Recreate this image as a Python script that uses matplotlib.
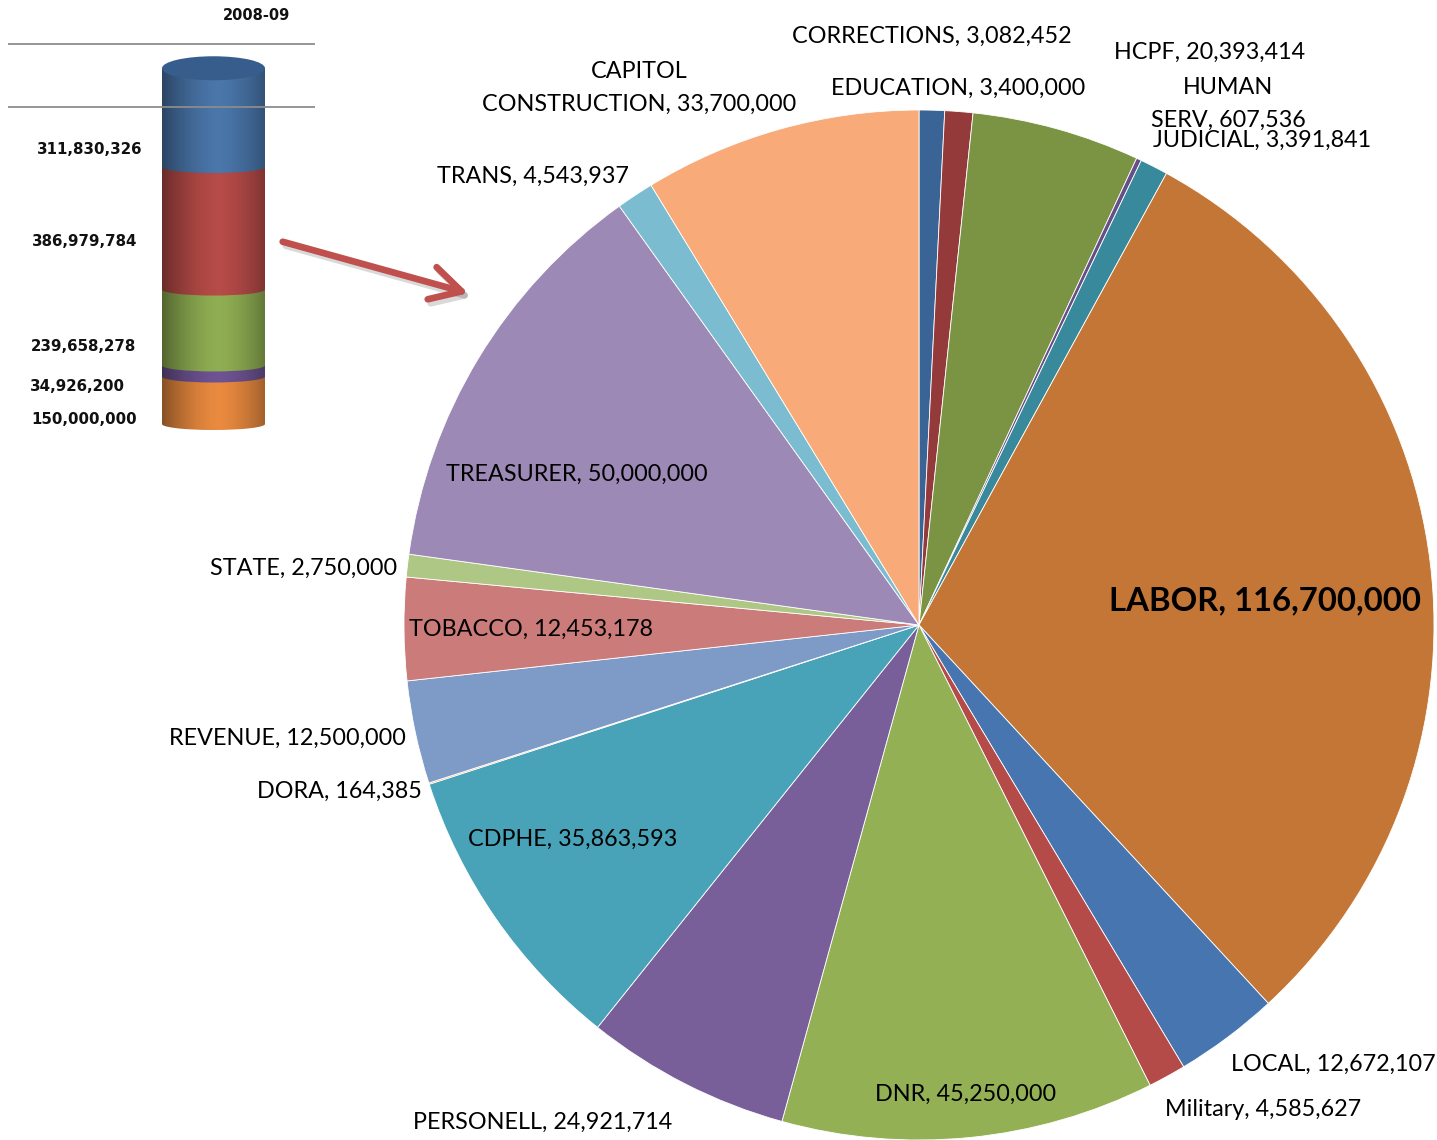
import numpy as np
import matplotlib
matplotlib.use("Agg")
import matplotlib.pyplot as plt
from matplotlib.patches import Ellipse, FancyArrowPatch, PathPatch
from matplotlib.path import Path

# ---------------- data ----------------
pie_labels = ["CORRECTIONS", "EDUCATION", "HCPF", "HUMAN\nSERV", "JUDICIAL", "LABOR",
              "LOCAL", "Military", "DNR", "PERSONELL", "CDPHE", "DORA", "REVENUE",
              "TOBACCO", "STATE", "TREASURER", "TRANS", "CAPITOL\nCONSTRUCTION"]
pie_values = [3082452, 3400000, 20393414, 607536, 3391841, 116700000,
              12672107, 4585627, 45250000, 24921714, 35863593, 164385, 12500000,
              12453178, 2750000, 50000000, 4543937, 33700000]
pie_colors = ["#3A6496", "#953A3A", "#7A9444", "#664E87", "#38899B", "#C37636",
              "#4775AF", "#B54B49", "#93B055", "#785F99", "#48A2B8", "#F39A4A",
              "#7E9AC6", "#CB7B79", "#AEC785", "#9C89B5", "#7BBCD0", "#F8AA78"]

bar_category = "2008-09"
bar_values = [150000000, 34926200, 239658278, 386979784, 311830326]   # bottom -> top
bar_colors = ["#E98A3F", "#6E5393", "#8FAE52", "#B64B48", "#4A76AA"]
bar_gridlines = [1.0e9, 1.2e9]

# ---------------- layout (pixels) ----------------
W, H = 1437, 1140
pie_center_px = (919, 625)
pie_radius_px = 515
label_pos_px = [(932, 36), (958, 88), (1210, 52), (1228, 104), (1262, 140), (1265, 601),
                (1333, 1064), (1263, 1110), (966, 1094), (543, 1122), (573, 839),
                (339, 791), (287, 738), (531, 629), (304, 568), (577, 474), (533, 176),
                (639, 88)]
bar_label_px = [(31, 420), (30, 386), (31, 346), (32, 241), (37, 149)]

FONT = ["Lato", "DejaVu Sans"]

fig = plt.figure(figsize=(W / 100, H / 100), dpi=100)

# ---------------- pie ----------------
ax = fig.add_axes([0, 0, 1, 1])
cx, cy = pie_center_px[0], H - pie_center_px[1]
ax.pie(pie_values, colors=pie_colors, startangle=90, counterclock=False,
       center=(cx, cy), radius=pie_radius_px,
       wedgeprops=dict(edgecolor="white", linewidth=0.6))
ax.set_xlim(0, W)
ax.set_ylim(0, H)
ax.set_aspect("equal")
ax.axis("off")

for lab, val, (px, py) in zip(pie_labels, pie_values, label_pos_px):
    txt = f"{lab}, {val:,}"
    bold = lab == "LABOR"
    ax.text(px, H - py, txt, ha="center", va="center", family=FONT,
            fontsize=23.7 if bold else 16.8, fontweight="bold" if bold else "normal",
            color="black", linespacing=1.72, zorder=10)

# arrow with a soft shadow
shadow = FancyArrowPatch((283, H - 245), (474, H - 298),
                         arrowstyle="->,head_length=2.2,head_width=1.2",
                         mutation_scale=10, lw=4.8, color="#000000", alpha=0.15,
                         capstyle="round", joinstyle="round", zorder=4)
ax.add_patch(shadow)
arrow = FancyArrowPatch((280, H - 241), (471, H - 294),
                        arrowstyle="->,head_length=2.2,head_width=1.2",
                        mutation_scale=10, lw=4.8, color="#C0504D",
                        capstyle="round", joinstyle="round", zorder=5)
ax.add_patch(arrow)

# ---------------- cylinder (stacked bar) ----------------
px_per_unit = 380 / 1.2e9          # pixels per value unit
zero_px = 424
bottom_px = 445
ymin = -(bottom_px - zero_px) / px_per_unit
ymax = zero_px / px_per_unit
axb = fig.add_axes([8 / W, (H - bottom_px) / H, 307 / W, bottom_px / H])
axb.set_xlim(0, 1)
axb.set_ylim(ymin, ymax)
axb.axis("off")
axb.patch.set_alpha(0)

xc = (213.5 - 8) / 307
bw = 103 / 307
ell_h = 12 / px_per_unit
cum = np.concatenate([[0], np.cumsum(bar_values)])
total = cum[-1]
for i, (v, c) in enumerate(zip(bar_values, bar_colors)):
    axb.bar([xc], [v], bottom=[cum[i]], width=bw, color=c, zorder=2 + i * 0.1)
    axb.add_patch(Ellipse((xc, cum[i]), bw, ell_h, facecolor=c, edgecolor="none",
                          zorder=2 + i * 0.1 + 0.05))

# shading overlay for cylindrical look
t = np.linspace(0, 1, 200)
alpha = 0.42 * np.clip(np.abs(t - 0.55) / 0.55, 0, 1) ** 1.6
grad = np.zeros((1, 200, 4))
grad[0, :, 3] = alpha
ang = np.linspace(np.pi, 2 * np.pi, 40)
verts = [(xc - bw / 2, total)]
verts += [(xc + bw / 2 * np.cos(a), ell_h / 2 * np.sin(a)) for a in ang]
verts += [(xc + bw / 2, total), (xc - bw / 2, total)]
clip = PathPatch(Path(verts), transform=axb.transData, facecolor="none", edgecolor="none")
axb.add_patch(clip)
im = axb.imshow(grad, extent=[xc - bw / 2, xc + bw / 2, -ell_h, total], aspect="auto",
                zorder=3, interpolation="bilinear")
im.set_clip_path(clip)

# top cap
axb.add_patch(Ellipse((xc, total), bw, 24 / px_per_unit, facecolor="#375D8C",
                      edgecolor="none", zorder=4))

for g in bar_gridlines:
    axb.axhline(g, color="#8C8C8C", lw=1.3, zorder=6)

for v, (px, py) in zip(bar_values, bar_label_px):
    fig.text(px / W, (H - py) / H, f"{v:,}", ha="left", va="center",
             family="DejaVu Sans", fontweight="bold", fontsize=10.8, color="#111111")
fig.text(256 / W, (H - 15) / H, bar_category, ha="center", va="center",
         family="DejaVu Sans", fontweight="bold", fontsize=10.5, color="#111111")

fig.savefig("out.png", dpi=100)
